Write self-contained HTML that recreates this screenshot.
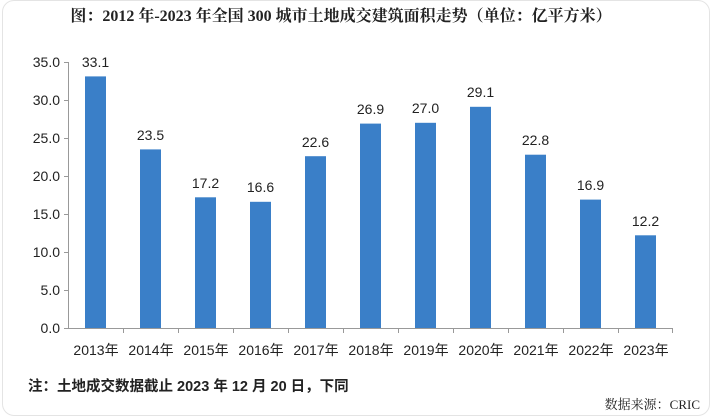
<!DOCTYPE html>
<html><head><meta charset="utf-8"><style>
body{margin:0;background:#fff;}
.card{position:absolute;left:2px;top:0;width:708px;height:416px;background:#fff;border:1px solid #e4e4e4;border-radius:12px;box-sizing:border-box;}
svg{position:absolute;left:0;top:0;}
text{font-family:"Liberation Sans","Noto Sans CJK SC",sans-serif;fill:#222;}
</style></head><body>
<div class="card"></div>
<svg width="716" height="419" viewBox="0 0 716 419">
<text x="341" y="21" text-anchor="middle" font-size="16" style="font-family:'Liberation Serif','Noto Serif CJK SC',serif" font-weight="bold">图：2012 年-2023 年全国 300 城市土地成交建筑面积走势（单位：亿平方米）</text>
<g stroke="#999" stroke-width="1">
<line x1="68.5" y1="62" x2="68.5" y2="328"/>
<line x1="68" y1="328.5" x2="673" y2="328.5"/>
<line x1="64" y1="62.5" x2="68" y2="62.5"/><line x1="64" y1="100.5" x2="68" y2="100.5"/><line x1="64" y1="138.5" x2="68" y2="138.5"/><line x1="64" y1="176.5" x2="68" y2="176.5"/><line x1="64" y1="214.5" x2="68" y2="214.5"/><line x1="64" y1="252.5" x2="68" y2="252.5"/><line x1="64" y1="290.5" x2="68" y2="290.5"/><line x1="64" y1="328.5" x2="68" y2="328.5"/>
<line x1="123.5" y1="328" x2="123.5" y2="333"/><line x1="178.5" y1="328" x2="178.5" y2="333"/><line x1="233.5" y1="328" x2="233.5" y2="333"/><line x1="288.5" y1="328" x2="288.5" y2="333"/><line x1="343.5" y1="328" x2="343.5" y2="333"/><line x1="398.5" y1="328" x2="398.5" y2="333"/><line x1="453.5" y1="328" x2="453.5" y2="333"/><line x1="508.5" y1="328" x2="508.5" y2="333"/><line x1="563.5" y1="328" x2="563.5" y2="333"/><line x1="618.5" y1="328" x2="618.5" y2="333"/><line x1="672.5" y1="328" x2="672.5" y2="333"/>
</g>
<g font-size="14" text-anchor="end">
<text x="60" y="67">35.0</text><text x="60" y="105">30.0</text><text x="60" y="143">25.0</text><text x="60" y="181">20.0</text><text x="60" y="219">15.0</text><text x="60" y="257">10.0</text><text x="60" y="295">5.0</text><text x="60" y="333">0.0</text>
</g>
<g fill="#3a7fc8">
<rect x="85" y="76.4" width="21" height="251.6"/>
<rect x="140" y="149.4" width="21" height="178.6"/>
<rect x="195" y="197.3" width="21" height="130.7"/>
<rect x="250" y="201.8" width="21" height="126.2"/>
<rect x="305" y="156.2" width="21" height="171.8"/>
<rect x="360" y="123.6" width="21" height="204.4"/>
<rect x="415" y="122.8" width="21" height="205.2"/>
<rect x="470" y="106.8" width="21" height="221.2"/>
<rect x="525" y="154.7" width="21" height="173.3"/>
<rect x="580" y="199.6" width="21" height="128.4"/>
<rect x="635" y="235.3" width="21" height="92.7"/>
</g>
<g font-size="14" text-anchor="middle">
<text x="95.5" y="67">33.1</text><text x="150.5" y="140">23.5</text><text x="205.5" y="188">17.2</text><text x="260.5" y="192">16.6</text><text x="315.5" y="147">22.6</text><text x="370.5" y="114">26.9</text><text x="425.5" y="113">27.0</text><text x="480.5" y="97">29.1</text><text x="535.5" y="145">22.8</text><text x="590.5" y="190">16.9</text><text x="645.5" y="226">12.2</text>
</g>
<g font-size="14" text-anchor="middle">
<text x="96" y="355">2013年</text><text x="151" y="355">2014年</text><text x="206" y="355">2015年</text><text x="261" y="355">2016年</text><text x="316" y="355">2017年</text><text x="371" y="355">2018年</text><text x="426" y="355">2019年</text><text x="481" y="355">2020年</text><text x="536" y="355">2021年</text><text x="591" y="355">2022年</text><text x="646" y="355">2023年</text>
</g>
<text x="28" y="391" font-size="14.5" font-weight="bold">注：土地成交数据截止 2023 年 12 月 20 日，下同</text>
<text x="700" y="409" font-size="13" text-anchor="end" style="font-family:'Liberation Serif','Noto Serif CJK SC',serif">数据来源：CRIC</text>
</svg>
</body></html>
